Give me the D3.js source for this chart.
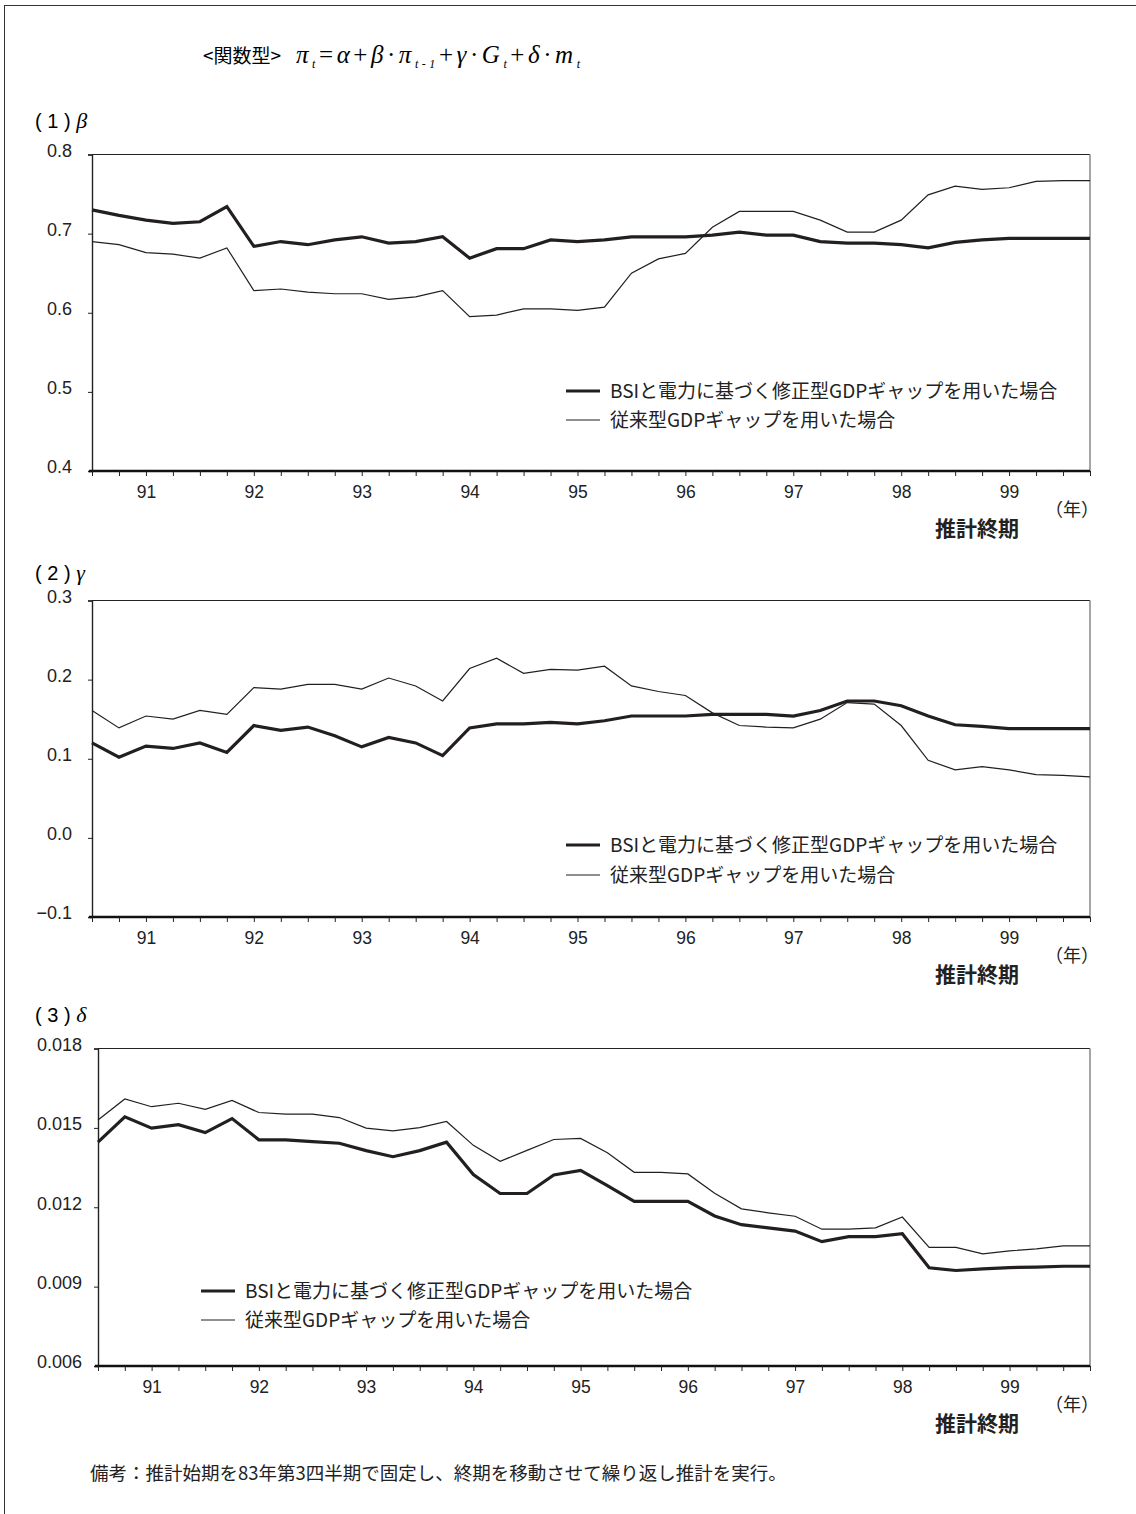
<!DOCTYPE html>
<html>
<head>
<meta charset="utf-8">
<script src="https://cdn.jsdelivr.net/npm/d3@7"></script>
<style>
  html, body { margin: 0; padding: 0; background: #fff; }
  svg { display: block; }
  .num { font-family: "Liberation Sans", Arial, sans-serif; }
  .jp { font-family: "Noto Sans CJK JP", "Noto Sans", sans-serif; }
  .math { font-family: "Liberation Serif", "Times New Roman", serif; font-style: italic; }
</style>
</head>
<body>
<script>
// Quarterly end-of-sample periods (90Q3 .. 99Q4)
const quarters = [
  "90Q3","90Q4",
  "91Q1","91Q2","91Q3","91Q4",
  "92Q1","92Q2","92Q3","92Q4",
  "93Q1","93Q2","93Q3","93Q4",
  "94Q1","94Q2","94Q3","94Q4",
  "95Q1","95Q2","95Q3","95Q4",
  "96Q1","96Q2","96Q3","96Q4",
  "97Q1","97Q2","97Q3","97Q4",
  "98Q1","98Q2","98Q3","98Q4",
  "99Q1","99Q2","99Q3","99Q4"
];
// Year labels shown at the first quarter of each year
const yearTicks = ["91Q1","92Q1","93Q1","94Q1","95Q1","96Q1","97Q1","98Q1","99Q1"];
const yearLabels = ["91","92","93","94","95","96","97","98","99"];

const seriesNames = ["BSIと電力に基づく修正型GDPギャップを用いた場合", "従来型GDPギャップを用いた場合"];

// (1) beta
const betaModified = [0.730,0.723,0.717,0.713,0.715,0.734,0.684,0.690,0.686,0.692,0.696,0.688,0.690,0.696,0.669,0.681,0.681,0.692,0.690,0.692,0.696,0.696,0.696,0.698,0.702,0.698,0.698,0.690,0.688,0.688,0.686,0.682,0.689,0.692,0.694,0.694,0.694,0.694];
const betaConventional = [0.690,0.686,0.676,0.674,0.669,0.682,0.628,0.630,0.626,0.624,0.624,0.617,0.620,0.628,0.595,0.597,0.605,0.605,0.603,0.607,0.650,0.668,0.675,0.708,0.728,0.728,0.728,0.717,0.702,0.702,0.717,0.749,0.760,0.756,0.758,0.766,0.767,0.767];

// (2) gamma
const gammaModified = [0.120,0.102,0.116,0.113,0.120,0.108,0.142,0.136,0.140,0.129,0.115,0.127,0.120,0.104,0.139,0.144,0.144,0.146,0.144,0.148,0.154,0.154,0.154,0.156,0.156,0.156,0.154,0.161,0.173,0.173,0.167,0.154,0.143,0.141,0.138,0.138,0.138,0.138];
const gammaConventional = [0.161,0.139,0.154,0.150,0.161,0.156,0.190,0.188,0.194,0.194,0.188,0.202,0.192,0.173,0.214,0.227,0.208,0.213,0.212,0.217,0.192,0.185,0.180,0.158,0.142,0.140,0.139,0.150,0.171,0.169,0.142,0.098,0.086,0.090,0.086,0.080,0.079,0.077];

// (3) delta
const deltaModified = [0.01446,0.01542,0.01499,0.01512,0.01482,0.01535,0.01455,0.01455,0.01448,0.01442,0.01414,0.01391,0.01414,0.01446,0.01324,0.01252,0.01252,0.01322,0.01339,0.01282,0.01222,0.01222,0.01222,0.01167,0.01134,0.01122,0.01110,0.01070,0.01089,0.01089,0.01100,0.00971,0.00961,0.00967,0.00972,0.00974,0.00977,0.00977];
const deltaConventional = [0.01530,0.01609,0.01580,0.01593,0.01570,0.01604,0.01558,0.01552,0.01552,0.01539,0.01499,0.01489,0.01501,0.01524,0.01434,0.01374,0.01415,0.01456,0.01460,0.01406,0.01332,0.01332,0.01326,0.01253,0.01194,0.01179,0.01166,0.01117,0.01117,0.01122,0.01163,0.01048,0.01048,0.01024,0.01035,0.01043,0.01054,0.01054];

const W = 1136, H = 1514;
const svg = d3.select("body").append("svg").attr("width", W).attr("height", H);
const INK = "#231f20";

// page frame
svg.append("rect")
  .attr("x", 4.5).attr("y", 5.5).attr("width", W + 10).attr("height", H + 10)
  .attr("fill", "none").attr("stroke", "#333").attr("stroke-width", 1);

// model specification header
svg.append("text").attr("class", "jp").attr("x", 203).attr("y", 63).attr("font-size", 19).attr("fill", "#000")
  .text("<関数型>");
const f = svg.append("text").attr("class", "math").attr("x", 296).attr("y", 63).attr("font-size", 25)
  .attr("fill", "#000").attr("textLength", 284).attr("lengthAdjust", "spacing");
const formula = [
  ["π", 0], ["t", 1], ["=", 2], ["α", 0], ["+", 2], ["β", 0], ["·", 2], ["π", 0], ["t-1", 1],
  ["+", 2], ["γ", 0], ["·", 2], ["G", 0], ["t", 1], ["+", 2], ["δ", 0], ["·", 2], ["m", 0], ["t", 1]
];
let prevSub = false;
formula.forEach(([s, k]) => {
  const t = f.append("tspan").text(s);
  if (k === 1) { t.attr("font-size", 12).attr("dy", 5); prevSub = true; }
  else {
    if (prevSub) { t.attr("dy", -5); prevSub = false; }
    if (k === 2) t.attr("font-style", "normal");
  }
});

const right = 1090;
const line = (x) => d3.line().x((d, i) => x(quarters[i])).y(d => d);

function panel(cfg) {
  const left = cfg.left;
  const x = d3.scalePoint().domain(quarters).range([left, right]);
  const y = d3.scaleLinear().domain(cfg.domain).range([cfg.bottom, cfg.top]);
  const g = svg.append("g");

  // panel title
  const tt = g.append("text").attr("x", 35).attr("y", cfg.titleY).attr("font-size", 20).attr("fill", "#000");
  tt.append("tspan").attr("class", "num").text("( " + cfg.num + " ) ");
  tt.append("tspan").attr("class", "math").attr("font-size", 22).text(cfg.sym);

  // frame: top (dark) and right (grey)
  g.append("line").attr("x1", left).attr("x2", right).attr("y1", cfg.top).attr("y2", cfg.top)
    .attr("stroke", "#222").attr("stroke-width", 1.2);
  g.append("line").attr("x1", right).attr("x2", right).attr("y1", cfg.top).attr("y2", cfg.bottom)
    .attr("stroke", "#888").attr("stroke-width", 1.5);

  // y axis
  const ya = g.append("g").attr("transform", `translate(${left},0)`)
    .call(d3.axisLeft(y).tickValues(cfg.ticks).tickFormat(d3.format(cfg.fmt)).tickSize(4).tickPadding(cfg.pad));
  ya.select(".domain").attr("stroke", "#222").attr("stroke-width", 1.4);
  ya.selectAll(".tick line").attr("stroke", "#222");
  ya.selectAll(".tick text").attr("class", "num").attr("font-size", 18).attr("fill", "#222")
    .attr("dy", "0.1em");

  // series
  [{ v: cfg.conv, w: 1.2 }, { v: cfg.mod, w: 3.2 }].forEach(s => {
    g.append("path").attr("d", line(x)(s.v.map(v => y(v))))
      .attr("fill", "none").attr("stroke", INK).attr("stroke-width", s.w)
      .attr("stroke-linejoin", "miter");
  });

  // x axis
  const xa = g.append("g").attr("transform", `translate(0,${cfg.bottom})`)
    .call(d3.axisBottom(x).tickValues(quarters).tickSize(5).tickPadding(10)
      .tickFormat(q => { const k = yearTicks.indexOf(q); return k >= 0 ? yearLabels[k] : ""; }));
  xa.select(".domain").attr("d", `M${left - 3},0H${right}`).attr("stroke", "#111").attr("stroke-width", 2.4);
  xa.selectAll(".tick line").attr("stroke", "#222");
  xa.selectAll(".tick text").attr("class", "num").attr("font-size", 17.5).attr("fill", "#222");

  // axis caption
  g.append("text").attr("class", "jp").attr("x", 1045).attr("y", cfg.bottom + 45)
    .attr("font-size", 18).attr("fill", "#222").text("（年）");
  g.append("text").attr("class", "jp").attr("x", 935).attr("y", cfg.bottom + 65)
    .attr("font-size", 21).attr("font-weight", "bold").attr("fill", "#222").text("推計終期");

  // legend
  const lg = g.append("g").attr("transform", `translate(${cfg.lx},${cfg.ly})`);
  [[3.2, 0], [1.2, cfg.lgap]].forEach(([w, dy], k) => {
    lg.append("line").attr("x1", 0).attr("x2", 34).attr("y1", dy).attr("y2", dy)
      .attr("stroke", INK).attr("stroke-width", w);
    lg.append("text").attr("class", "jp").attr("x", 44).attr("y", dy).attr("dy", "0.36em")
      .attr("font-size", 19).attr("fill", "#222").text(seriesNames[k]);
  });
}

panel({ num: "1", sym: "β", left: 92, top: 154.5, bottom: 471, titleY: 128,
  domain: [0.4, 0.8], ticks: [0.4, 0.5, 0.6, 0.7, 0.8], fmt: ".1f", pad: 16,
  mod: betaModified, conv: betaConventional, lx: 566, ly: 391, lgap: 29 });
panel({ num: "2", sym: "γ", left: 92, top: 600.5, bottom: 917, titleY: 580,
  domain: [-0.1, 0.3], ticks: [-0.1, 0, 0.1, 0.2, 0.3], fmt: ".1f", pad: 16,
  mod: gammaModified, conv: gammaConventional, lx: 566, ly: 845, lgap: 30 });
panel({ num: "3", sym: "δ", left: 98, top: 1048.5, bottom: 1366, titleY: 1022,
  domain: [0.006, 0.018], ticks: [0.006, 0.009, 0.012, 0.015, 0.018], fmt: ".3f", pad: 12,
  mod: deltaModified, conv: deltaConventional, lx: 201, ly: 1291, lgap: 29 });

// note
svg.append("text").attr("class", "jp").attr("x", 90).attr("y", 1480).attr("font-size", 18.5).attr("fill", "#222")
  .text("備考：推計始期を83年第3四半期で固定し、終期を移動させて繰り返し推計を実行。");
</script>
</body>
</html>
